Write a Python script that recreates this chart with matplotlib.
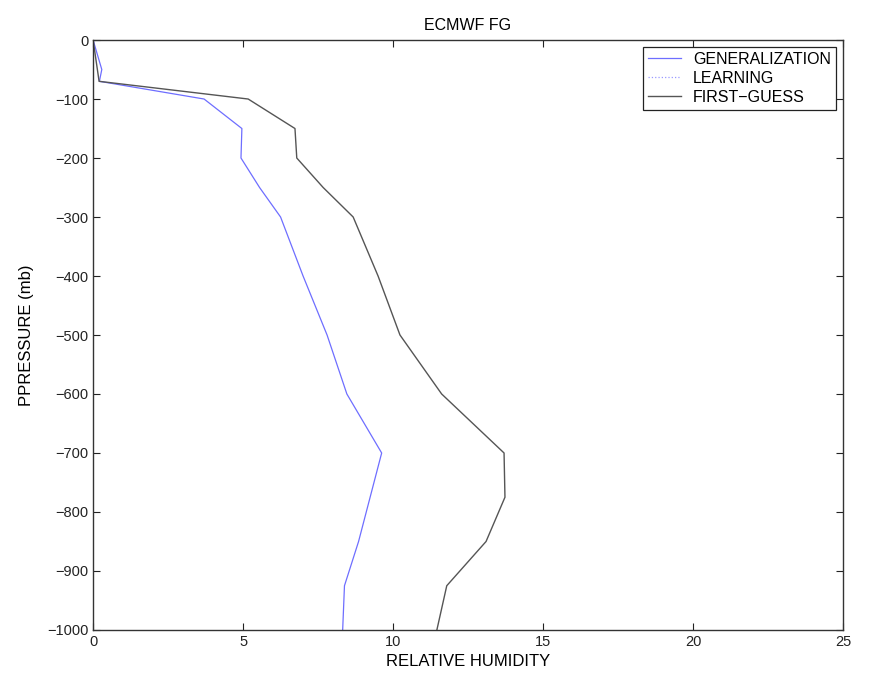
import matplotlib
matplotlib.use('Agg')
import matplotlib.pyplot as plt

plt.rcParams['font.family'] = ['Liberation Sans', 'DejaVu Sans']

# pressure levels (mb, negative downwards) and relative humidity profiles
p_gen = [0, -50, -70, -100, -150, -200, -250, -300, -400, -500, -600, -700, -850, -925, -1000]
rh_gen = [0.0, 0.29, 0.21, 3.7, 4.96, 4.93, 5.55, 6.25, 7.0, 7.8, 8.46, 9.62, 8.85, 8.38, 8.32]

p_fg = [0, -70, -100, -150, -200, -250, -300, -400, -500, -600, -700, -775, -850, -925, -1000]
rh_fg = [0.0, 0.2, 5.17, 6.73, 6.79, 7.67, 8.67, 9.5, 10.23, 11.62, 13.7, 13.73, 13.1, 11.79, 11.46]

fig = plt.figure(figsize=(8.7, 6.75), dpi=100)
ax = fig.add_axes([0.107, 0.0667, 0.862, 0.874])

ax.plot(rh_gen, p_gen, color='#6e6eff', linewidth=0.9, label='GENERALIZATION')
ax.plot([], [], color='#9a9aff', linestyle=':', linewidth=0.9, label='LEARNING')
ax.plot(rh_fg, p_fg, color='#555555', linewidth=1.0, label='FIRST\u2212GUESS')

ax.set_xlim(0, 25)
ax.set_ylim(-1000, 0)
ax.set_xticks([0, 5, 10, 15, 20, 25])
ax.set_yticks(range(-1000, 1, 100))
ax.tick_params(direction='in', top=True, right=True, labelsize=10.5, length=5, width=0.8, colors='#222222')
for s in ax.spines.values():
    s.set_linewidth(1.0)
    s.set_color('#333333')

ax.set_title('ECMWF FG', fontsize=11.5, pad=7)
ax.set_xlabel('RELATIVE HUMIDITY', fontsize=12, labelpad=4)
ax.set_ylabel('PPRESSURE (mb)', fontsize=12, labelpad=9)

leg = ax.legend(loc='upper right', fontsize=11.5, fancybox=False, framealpha=1,
                edgecolor='#222222', borderpad=0.3, labelspacing=0.25, handlelength=2.1,
                handletextpad=0.75, borderaxespad=0.45)
leg.get_frame().set_linewidth(0.9)

fig.savefig('out.png', dpi=100)
